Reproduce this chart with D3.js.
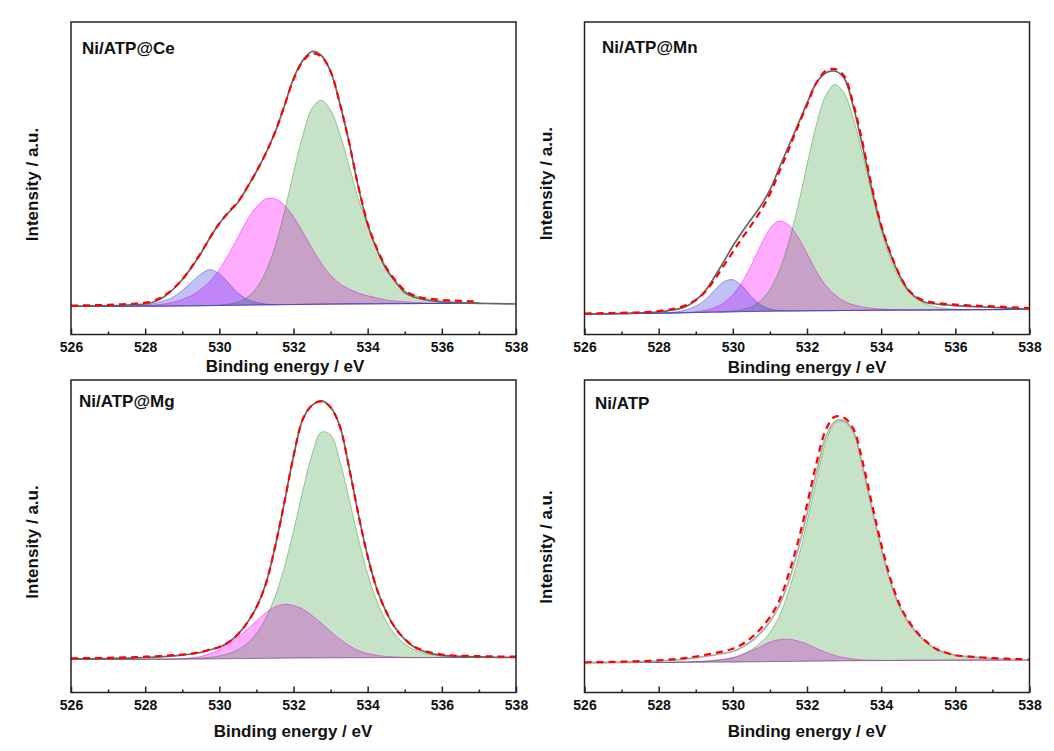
<!DOCTYPE html>
<meta charset="utf-8">
<style>
    body { margin: 0; background: #fff; }
    svg text { font-family: "Liberation Sans", Arial, sans-serif; font-weight: bold; fill: #111; }
    .tick text { font-size: 14px; }
    .tick line { stroke: #222; stroke-width: 1.5; }
</style>
<svg width="1054" height="751"></svg>
<script src="https://d3js.org/d3.v7.min.js"></script>
<script>

    // binding energy grid (eV), shared by every curve
    var energy = [526, 526.25, 526.5, 526.75, 527, 527.25, 527.5, 527.75, 528, 528.25, 528.5, 528.75,
        529, 529.25, 529.5, 529.75, 530, 530.25, 530.5, 530.75, 531, 531.25, 531.5, 531.75,
        532, 532.25, 532.5, 532.75, 533, 533.25, 533.5, 533.75, 534, 534.25, 534.5, 534.75,
        535, 535.25, 535.5, 535.75, 536, 536.25, 536.5, 536.75, 537, 537.25, 537.5, 537.75, 538];

    var majorTicks = [526, 528, 530, 532, 534, 536, 538];
    var minorTicks = [527, 529, 531, 533, 535, 537];

    // Ni/ATP@Ce
    var ceEnvelope = [0.5, 0.5, 0.6, 0.7, 0.8, 1.0, 1.3, 1.8, 2.5, 4.8, 9.5, 17, 27, 39, 53, 69, 83, 94, 104, 119,
        135, 153, 174, 200, 228, 246, 255, 251, 235, 203, 164, 119, 82, 57, 37.5, 25, 14, 9.5, 7, 5.5,
        4.5, 4.0, 3.7, 3.4, 3.2, 3.0, 2.8, 2.6, 2.5];
    var ceData = [0.9, 1.0, 1.2, 1.4, 1.7, 2.0, 2.4, 3.0, 3.9, 6.0, 10.5, 17.5, 27, 39.5, 53.5, 69, 83, 94.5, 104.5, 119,
        135, 153, 174, 200, 227, 245, 253, 250, 235, 203, 164, 120, 83, 58, 39, 26, 16, 11, 8.5, 7.3,
        6.5, 6.0, 5.6, 5.2, 4.8, null, null, null, null];
    var ceBg = [0, 0, 0, 0.1, 0.1, 0.1, 0.2, 0.2, 0.3, 0.3, 0.4, 0.5, 0.6, 0.7, 0.8, 0.9, 1.0, 1.1, 1.2, 1.4,
        1.5, 1.6, 1.7, 1.9, 2.0, 2.1, 2.2, 2.3, 2.4, 2.5, 2.6, 2.6, 2.7, 2.7, 2.8, 2.8, 2.9, 2.9, 3.0, 3.0,
        3.1, 3.1, 3.2, 3.2, 3.3, null, null, null, null];
    var ceBlue = [0, 0, 0, 0, 0, 0, 0.3, 0.6, 1.2, 2.7, 5.2, 8.8, 15.5, 23.5, 31.5, 36, 31.6, 22.2, 12.2, 5.9,
        2.4, 0.8, 0.3, 0.1, 0, 0, 0, 0, 0, 0, 0, 0, 0, 0, 0, 0, 0, 0, 0, 0,
        0, 0, 0, 0, 0, 0, 0, 0, 0];
    var ceMagenta = [0, 0, 0, 0, 0.1, 0.1, 0.2, 0.4, 0.6, 1.1, 2.1, 3.7, 6.3, 10.2, 16.3, 24.4, 36, 51, 68, 85,
        98, 106, 106, 99.7, 87.8, 72.4, 56, 41, 28.8, 20.2, 14.9, 10.8, 8.0, 5.9, 3.8, 2.6, 1.8, 1.2, 0.8, 0.5,
        0.3, 0.2, 0.1, 0, 0, 0, 0, 0, 0];
    var ceGreen = [0, 0, 0, 0, 0, 0, 0, 0, 0, 0, 0, 0, 0, 0, 0, 0.1, 0.4, 1.2, 3.2, 7.7,
        16.8, 33, 58, 92, 132, 169, 196, 204, 194, 170, 138, 105, 78, 53.5, 36.8, 21, 13, 8.5, 5.5, 3.7,
        2.5, 1.7, 1.2, 0.8, 0.5, 0.3, 0.2, 0.1, 0];

    // Ni/ATP@Mn
    var mnEnvelope = [0.0, 0.1, 0.2, 0.4, 0.6, 0.8, 1.1, 1.5, 2.2, 3.2, 4.8, 7.7, 13.9, 22.9, 36.8, 52, 68, 82, 95, 108,
        124, 146, 167.5, 189, 210.7, 231, 241, 243, 236, 207, 167.5, 124.5, 87.5, 60, 38, 23, 15, 11, 10, 9,
        8.3, 7.8, 7.4, 7.0, 6.7, 6.2, 5.7, 5.2, 4.7];
    var mnData = [0.5, 0.6, 0.8, 1.0, 1.2, 1.4, 1.7, 2.2, 3.0, 4.2, 6.0, 9.0, 14, 22, 34, 48, 62, 76, 89, 103,
        120, 142, 164, 187, 209, 231, 243, 245, 238, 210, 171, 127, 89, 61, 39, 23.5, 16, 12.5, 11, 10,
        9.3, 8.8, 8.4, 8.0, 7.6, 7.2, 6.8, 6.4, 6.0];
    var mnBg = [0, 0.1, 0.1, 0.2, 0.3, 0.4, 0.5, 0.6, 0.8, 0.9, 1.1, 1.3, 1.5, 1.7, 1.9, 2.0, 2.2, 2.4, 2.5, 2.7,
        2.8, 2.9, 3.0, 3.1, 3.2, 3.3, 3.3, 3.4, 3.5, 3.6, 3.6, 3.7, 3.8, 3.8, 3.9, 3.9, 4.0, 4.0, 4.1, 4.1,
        4.2, 4.2, 4.3, 4.3, 4.4, 4.4, 4.5, 4.5, 4.6];
    var mnBlue = [0, 0, 0, 0, 0, 0, 0, 0, 0.2, 0.5, 1.2, 2.9, 6.4, 12.4, 21.4, 30.1, 32.1, 25.5, 14.7, 6.4,
        2.1, 0.6, 0.1, 0, 0, 0, 0, 0, 0, 0, 0, 0, 0, 0, 0, 0, 0, 0, 0, 0,
        0, 0, 0, 0, 0, 0, 0, 0, 0];
    var mnMagenta = [0, 0, 0, 0, 0, 0, 0, 0, 0, 0, 0, 0.3, 0.8, 1.9, 4.4, 9.1, 16.9, 29.5, 46.5, 65.9,
        82.5, 90, 86.3, 74.3, 57.3, 39.7, 25.5, 15.8, 9.2, 5.6, 3.4, 2.0, 1.2, 0.7, 0.4, 0.2, 0.1, 0, 0, 0,
        0, 0, 0, 0, 0, 0, 0, 0, 0];
    var mnGreen = [0, 0, 0, 0, 0, 0, 0, 0, 0, 0, 0, 0, 0, 0, 0, 0, 0.7, 1.9, 4.7, 10.6,
        21.6, 40.2, 67.9, 104, 146, 185.5, 214.7, 226, 217.4, 192, 156, 116.6, 80, 51.4, 30.8, 17.8, 9.8, 5.3, 2.7, 1.4,
        0.7, 0.35, 0.15, 0, 0, 0, 0, 0, 0];

    // Ni/ATP@Mg
    var mgEnvelope = [0.3, 0.4, 0.5, 0.6, 0.7, 0.9, 1.1, 1.4, 1.8, 2.2, 2.7, 3.4, 4.2, 5.3, 6.8, 9.5, 12, 17, 25, 36.5,
        52, 75, 112, 156, 203, 240, 254, 258.5, 252, 233, 191.5, 145, 103, 70, 47.5, 31, 20, 12.3, 8.2, 5.5,
        4.0, 3.3, 2.9, 2.6, 2.4, 2.2, 2.0, 1.9, 1.8];
    var mgData = [1.0, 1.1, 1.2, 1.3, 1.5, 1.7, 1.9, 2.2, 2.6, 3.0, 3.5, 4.1, 4.8, 5.8, 7.2, 9.8, 12.3, 17.2, 25, 36.5,
        52, 75, 112, 156, 203, 240, 254, 258, 252, 233, 191.5, 145, 103, 70, 47.5, 31, 20.3, 12.8, 8.8, 6.3,
        4.8, 4.0, 3.6, 3.3, 3.1, 2.9, 2.8, 2.7, 2.6];
    var mgBg = [0, 0, 0, 0, 0, 0, 0, 0, 0.1, 0.1, 0.1, 0.2, 0.2, 0.3, 0.3, 0.4, 0.5, 0.6, 0.7, 0.8,
        0.9, 1.0, 1.1, 1.2, 1.3, 1.4, 1.4, 1.5, 1.5, 1.6, 1.6, 1.6, 1.6, 1.7, 1.7, 1.7, 1.7, 1.7, 1.7, 1.8,
        1.8, 1.8, 1.8, 1.8, 1.8, 1.8, 1.8, 1.8, 1.8];
    var mgMagenta = [0, 0, 0, 0, 0, 0, 0, 0, 0, 0, 0, 0.2, 0.5, 1.2, 2.5, 5.3, 9.2, 14.8, 21.3, 29,
        37.4, 45.4, 51.3, 53.7, 52.6, 48.8, 42.4, 34.7, 26.4, 18.7, 12.1, 7.2, 4.1, 2.2, 1.1, 0.6, 0.3, 0.15, 0, 0,
        0, 0, 0, 0, 0, 0, 0, 0, 0];
    var mgGreen = [0, 0, 0, 0, 0, 0, 0, 0, 0, 0, 0, 0, 0.3, 0.5, 0.9, 1.6, 2.9, 5.1, 8.8, 15,
        24.8, 39.8, 61.4, 90.6, 127, 167, 203.5, 225.7, 223, 197, 159, 119, 84, 56.5, 36.3, 22.5, 13.5, 7.9, 4.5, 2.5,
        1.4, 0.8, 0.4, 0.2, 0.1, 0, 0, 0, 0];

    // Ni/ATP
    var atpEnvelope = [0.2, 0.3, 0.4, 0.5, 0.6, 0.8, 1.0, 1.3, 1.7, 2.2, 2.9, 3.8, 5.0, 6.2, 7.7, 9.3, 11.2, 15.5, 21.5, 29.8,
        41, 57, 80.5, 112, 149, 190, 225, 241, 242, 231, 196, 154, 115, 81, 56, 39.5, 28, 19.5, 13, 10,
        7.5, 6.4, 5.5, 4.8, 4.2, 3.7, 3.3, 3.0, 2.7];
    var atpData = [0.4, 0.5, 0.6, 0.8, 1.0, 1.2, 1.5, 1.9, 2.4, 3.0, 3.8, 4.9, 6.2, 7.7, 9.5, 11.5, 14, 18.5, 25, 34,
        45.5, 62, 88, 120, 158, 199, 232, 246, 245, 234, 201, 159, 119, 84, 58, 41, 29, 20, 13.5, 10,
        7.5, 6.5, 5.8, 5.2, 4.6, 4.2, 3.8, 3.5, 3.2];
    var atpBg = [0, 0, 0, 0.1, 0.1, 0.1, 0.2, 0.2, 0.3, 0.3, 0.4, 0.4, 0.5, 0.5, 0.6, 0.6, 0.7, 0.8, 0.9, 1.0,
        1.1, 1.2, 1.3, 1.4, 1.5, 1.6, 1.7, 1.8, 1.9, 2.0, 2.0, 2.1, 2.2, 2.2, 2.3, 2.3, 2.4, 2.4, 2.4, 2.5,
        2.5, 2.5, 2.5, 2.6, 2.6, 2.6, 2.6, 2.7, 2.7];
    var atpMagenta = [0, 0, 0, 0, 0, 0, 0, 0, 0, 0, 0.2, 0.4, 0.7, 1.1, 1.8, 2.9, 4.4, 7.5, 11, 15,
        19.5, 21.8, 22.1, 20.5, 17.3, 12.8, 8.8, 5.5, 3.2, 1.6, 0.8, 0.4, 0.2, 0.1, 0, 0, 0, 0, 0, 0,
        0, 0, 0, 0, 0, 0, 0, 0, 0];
    var atpGreen = [0, 0, 0, 0, 0, 0, 0, 0, 0, 0.1, 0.2, 0.4, 0.6, 1.0, 1.5, 2.4, 4, 7, 12, 19,
        29, 45, 70, 101, 139, 180, 218, 237, 239, 228, 194, 152, 112, 79, 53, 37, 26, 17, 11, 7.5,
        5, 3.8, 2.8, 2.0, 1.4, 1.0, 0.7, 0.5, 0.3];

    var magenta = {color: "#ff00ff", opacity: 0.33},
        green = {color: "#008000", opacity: 0.22},
        blue = {color: "#3333dd", opacity: 0.3};

    var panels = [
        {name: "Ni/ATP@Ce", left: 71, top: 22, yDomain: [-28, 284.5], nameX: 82, nameY: 54.3,
            titleX: 285, titleY: 372, yTitleX: 38, yTitleY: 184.5, fitColor: "#666",
            envelope: ceEnvelope, data: ceData, bg: ceBg,
            peaks: [[ceMagenta, magenta], [ceGreen, green], [ceBlue, blue]]},
        {name: "Ni/ATP@Mn", left: 584.5, top: 22, yDomain: [-20.5, 292], nameX: 602, nameY: 53.3,
            titleX: 807, titleY: 373, yTitleX: 552, yTitleY: 183.7, fitColor: "#666",
            envelope: mnEnvelope, data: mnData, bg: mnBg,
            peaks: [[mnMagenta, magenta], [mnGreen, green], [mnBlue, blue]]},
        {name: "Ni/ATP@Mg", left: 71, top: 380, yDomain: [-33.2, 279.3], nameX: 79, nameY: 407,
            titleX: 293, titleY: 737, yTitleX: 38, yTitleY: 542, fitColor: "#666",
            envelope: mgEnvelope, data: mgData, bg: mgBg,
            peaks: [[mgMagenta, magenta], [mgGreen, green]]},
        {name: "Ni/ATP", left: 584.5, top: 380, yDomain: [-29.8, 282.7], nameX: 595, nameY: 409,
            titleX: 807, titleY: 737, yTitleX: 552, yTitleY: 547, fitColor: "#aaa",
            envelope: atpEnvelope, data: atpData, bg: atpBg,
            peaks: [[atpMagenta, magenta], [atpGreen, green]]}
    ];

    var svg = d3.select("svg"),
        W = 445,
        H = 312.5;

    panels.forEach(function (p, k) {
        var x = d3.scaleLinear().domain([526, 538]).range([p.left, p.left + W]),
            y = d3.scaleLinear().domain(p.yDomain).range([p.top + H, p.top]),
            g = svg.append("g");

        g.append("clipPath").attr("id", "clip" + k)
            .append("rect")
            .attr("x", p.left).attr("y", p.top)
            .attr("width", W).attr("height", H);

        var plot = g.append("g").attr("clip-path", "url(#clip" + k + ")");

        // fitted components, filled from the background
        p.peaks.forEach(function (pk) {
            var area = d3.area()
                .defined(function (d, i) { return p.bg[i] != null; })
                .x(function (d, i) { return x(energy[i]); })
                .y0(function (d, i) { return y(p.bg[i]); })
                .y1(function (d, i) { return y(p.bg[i] + d); })
                .curve(d3.curveCatmullRom);
            plot.append("path")
                .datum(pk[0])
                .attr("d", area)
                .attr("fill", pk[1].color)
                .attr("fill-opacity", pk[1].opacity)
                .attr("stroke", pk[1].color)
                .attr("stroke-opacity", pk[1].opacity + 0.15)
                .attr("stroke-width", 1);
        });

        // fitted envelope
        var line = d3.line()
            .defined(function (d) { return d != null; })
            .x(function (d, i) { return x(energy[i]); })
            .y(function (d) { return y(d); })
            .curve(d3.curveCatmullRom);

        plot.append("path")
            .datum(p.envelope)
            .attr("d", line)
            .attr("fill", "none")
            .attr("stroke", p.fitColor)
            .attr("stroke-width", 1.7);

        // measured spectrum
        plot.append("path")
            .datum(p.data)
            .attr("d", line)
            .attr("fill", "none")
            .attr("stroke", "#ff0000")
            .attr("stroke-width", 2.2)
            .attr("stroke-dasharray", "7,5");

        // axes
        var major = g.append("g")
            .attr("transform", "translate(0," + (p.top + H) + ")")
            .call(d3.axisBottom(x).tickValues(majorTicks).tickSizeInner(-6).tickSizeOuter(0)
                .tickPadding(8).tickFormat(d3.format("d")));
        major.select(".domain").remove();

        var minor = g.append("g")
            .attr("transform", "translate(0," + (p.top + H) + ")")
            .call(d3.axisBottom(x).tickValues(minorTicks).tickSizeInner(-3).tickSizeOuter(0)
                .tickFormat(""));
        minor.select(".domain").remove();

        g.append("rect")
            .attr("x", p.left).attr("y", p.top)
            .attr("width", W).attr("height", H)
            .attr("fill", "none")
            .attr("stroke", "#222")
            .attr("stroke-width", 1.5);

        // labels
        g.append("text")
            .attr("x", p.nameX).attr("y", p.nameY)
            .style("font-size", "17px")
            .text(p.name);

        g.append("text")
            .attr("x", p.titleX).attr("y", p.titleY)
            .attr("text-anchor", "middle")
            .style("font-size", "17px")
            .text("Binding energy / eV");

        g.append("text")
            .attr("transform", "translate(" + p.yTitleX + "," + p.yTitleY + ") rotate(-90)")
            .attr("text-anchor", "middle")
            .style("font-size", "17px")
            .text("Intensity / a.u.");
    });
</script>
